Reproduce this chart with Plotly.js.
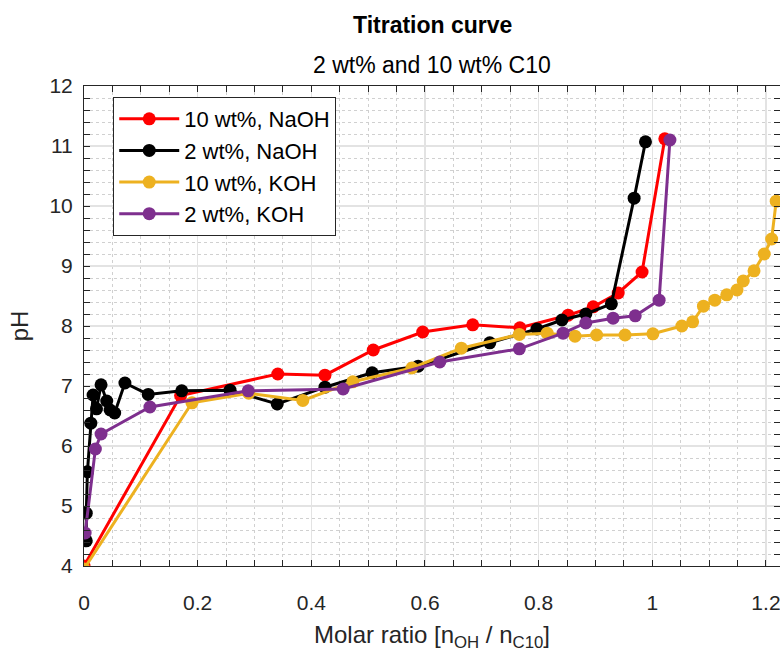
<!DOCTYPE html>
<html>
<head>
<meta charset="utf-8">
<script src="https://cdn.plot.ly/plotly-3.0.1.min.js"></script>
<style>html,body{margin:0;padding:0;background:#fff;}#chart{width:780px;height:660px;}</style>
</head>
<body>
<div id="chart"></div>
<script>
// Series names
const seriesNames = ["10 wt%, NaOH", "2 wt%, NaOH", "10 wt%, KOH", "2 wt%, KOH"];

// 10 wt%, NaOH
const naoh10_x = [0, 0.17, 0.341, 0.424, 0.509, 0.596, 0.684, 0.767, 0.852, 0.896, 0.94, 0.982, 1.022];
const naoh10_y = [4.0, 6.84, 7.2, 7.18, 7.6, 7.9, 8.02, 7.97, 8.18, 8.32, 8.55, 8.9, 11.12];

// 2 wt%, NaOH
const naoh2_x = [0.004, 0.004, 0.006, 0.012, 0.016, 0.022, 0.030, 0.040, 0.046, 0.054, 0.072, 0.113, 0.172, 0.257, 0.340, 0.424, 0.507, 0.588, 0.714, 0.797, 0.841, 0.883, 0.928, 0.968, 0.988];
const naoh2_y = [4.42, 4.88, 5.57, 6.38, 6.85, 6.62, 7.02, 6.75, 6.6, 6.55, 7.05, 6.86, 6.92, 6.93, 6.7, 6.98, 7.22, 7.33, 7.72, 7.95, 8.1, 8.2, 8.37, 10.13, 11.07];

// 10 wt%, KOH
const koh10_x = [0, 0.19, 0.29, 0.385, 0.473, 0.577, 0.664, 0.766, 0.815, 0.864, 0.902, 0.952, 1.001, 1.052, 1.071, 1.09, 1.11, 1.131, 1.149, 1.16, 1.179, 1.197, 1.21, 1.218];
const koh10_y = [3.95, 6.72, 6.88, 6.76, 7.07, 7.3, 7.63, 7.86, 7.88, 7.83, 7.85, 7.85, 7.87, 8.0, 8.07, 8.33, 8.43, 8.52, 8.6, 8.75, 8.92, 9.2, 9.45, 10.08];

// 2 wt%, KOH
const koh2_x = [0.002, 0.02, 0.03, 0.116, 0.289, 0.456, 0.626, 0.766, 0.843, 0.883, 0.931, 0.97, 1.012, 1.031];
const koh2_y = [4.55, 5.95, 6.2, 6.65, 6.92, 6.95, 7.4, 7.62, 7.88, 8.05, 8.13, 8.17, 8.43, 11.1];

const colors = ["#FF0000", "#000000", "#EDB120", "#7E2F8E"];
const xs = [naoh10_x, naoh2_x, koh10_x, koh2_x];
const ys = [naoh10_y, naoh2_y, koh10_y, koh2_y];

const traces = seriesNames.map((n, i) => ({
  type: "scatter",
  mode: "lines+markers",
  name: n,
  x: xs[i],
  y: ys[i],
  line: {color: colors[i], width: 3},
  marker: {color: colors[i], size: 13}
}));

const FONT = "Liberation Sans, Arial, Helvetica, sans-serif";
const tickCol = "#262626";

const layout = {
  width: 780,
  height: 660,
  paper_bgcolor: "#ffffff",
  plot_bgcolor: "#ffffff",
  margin: {l: 84, r: 0, t: 86, b: 94},
  font: {family: FONT, color: tickCol, size: 21},
  showlegend: true,
  legend: {
    x: 0.042, y: 0.977, xanchor: "left", yanchor: "top",
    bgcolor: "#ffffff", bordercolor: "#262626", borderwidth: 1,
    font: {family: FONT, size: 22, color: "#000000"},
    itemwidth: 60
  },
  xaxis: {
    range: [0, 1.2247],
    dtick: 0.2, tick0: 0,
    ticks: "inside", ticklen: 6, tickcolor: tickCol, tickwidth: 1,
    showline: true, linecolor: tickCol, linewidth: 1, mirror: "ticks",
    showgrid: true, gridcolor: "#e3e3e3", gridwidth: 1.5,
    zeroline: false,
    tickfont: {family: FONT, size: 21, color: tickCol},
    ticklabelstandoff: 18,
    ticklabeloverflow: "allow",
    minor: {dtick: 0.05, ticks: "inside", ticklen: 6, tickcolor: tickCol, showgrid: true, gridcolor: "#d0d0d0", griddash: "dot", gridwidth: 1},
    title: {text: "Molar ratio [n<sub>OH</sub> / n<sub>C10</sub>]", font: {family: FONT, size: 24, color: tickCol}, standoff: 12}
  },
  yaxis: {
    range: [4, 12],
    dtick: 1, tick0: 0,
    ticks: "inside", ticklen: 6, tickcolor: tickCol, tickwidth: 1,
    showline: true, linecolor: tickCol, linewidth: 1, mirror: "ticks",
    showgrid: true, gridcolor: "#e3e3e3", gridwidth: 1.5,
    zeroline: false,
    tickfont: {family: FONT, size: 21, color: tickCol},
    ticklabelstandoff: 6,
    minor: {dtick: 0.2, ticks: "inside", ticklen: 6, tickcolor: tickCol, showgrid: true, gridcolor: "#d0d0d0", griddash: "dot", gridwidth: 1},
    title: {text: "pH", font: {family: FONT, size: 24, color: tickCol}, standoff: 14}
  },
  annotations: [
    {text: "<b>Titration curve</b>", xref: "paper", yref: "paper", x: 0.5, y: 1.127, xanchor: "center", yanchor: "middle", showarrow: false, font: {family: FONT, size: 23, color: "#000000"}},
    {text: "2 wt% and 10 wt% C10", xref: "paper", yref: "paper", x: 0.5, y: 1.044, xanchor: "center", yanchor: "middle", showarrow: false, font: {family: FONT, size: 23, color: "#000000"}}
  ]
};

Plotly.newPlot("chart", traces, layout, {displayModeBar: false, staticPlot: true});
</script>
</body>
</html>
